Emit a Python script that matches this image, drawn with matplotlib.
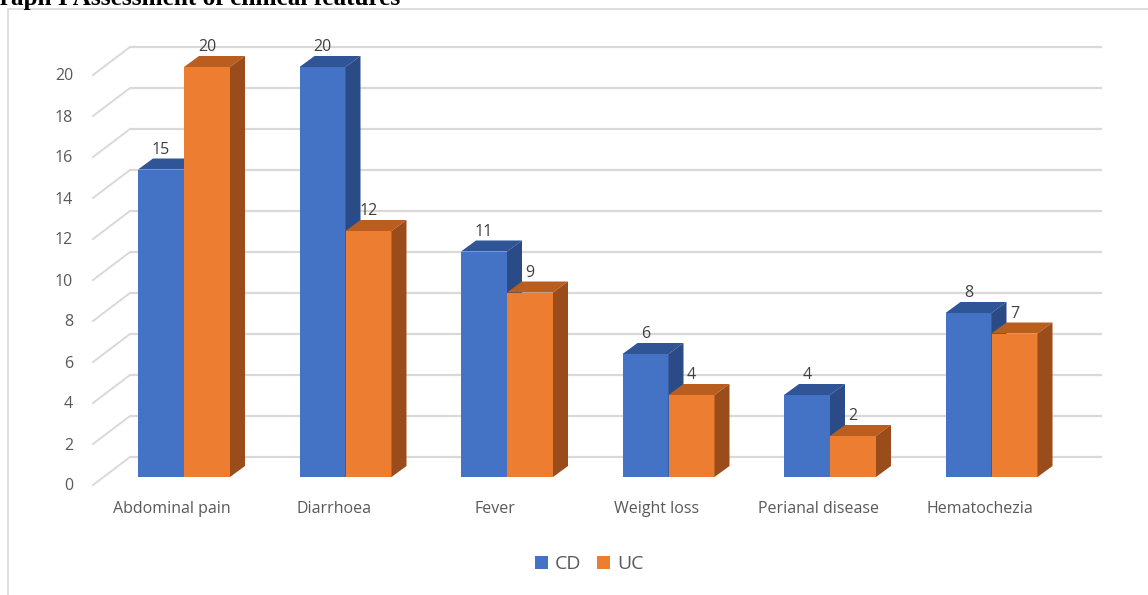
import matplotlib
matplotlib.use('Agg')
import matplotlib.pyplot as plt
from matplotlib.patches import Polygon, Patch, Rectangle

categories = ['Abdominal pain', 'Diarrhoea', 'Fever', 'Weight loss', 'Perianal disease', 'Hematochezia']
cd = [15, 20, 11, 6, 4, 8]
uc = [20, 12, 9, 4, 2, 7]
yticks = [0, 2, 4, 6, 8, 10, 12, 14, 16, 18, 20]
title = 'Graph I Assessment of clinical features'

W, H = 1148, 595
# pixel layout of the bar plane (y measured from bottom)
X0, XSTEP = 184, 161.5
Y0, YSTEP = 118, 20.5

def dxu(px):
    return px / XSTEP

def dyu(px):
    return px / YSTEP

blue, blue_top, blue_side = '#4472C4', '#2F5597', '#2A4B85'
orange, orange_top, orange_side = '#ED7D31', '#BA5E20', '#9A4C1A'
grid_c = '#D9D9D9'
txt_c = '#595959'

plt.rcParams['font.family'] = ['Open Sans', 'DejaVu Sans']

fig = plt.figure(figsize=(W / 100, H / 100), dpi=100)
ax = fig.add_axes([0, 0, 1, 1])
ax.set_xlim(-X0 / XSTEP, (W - X0) / XSTEP)
ax.set_ylim(-Y0 / YSTEP, (H - Y0) / YSTEP)
ax.axis('off')

# walls: back wall offset and front plane offset from the bar plane
back_dx, back_dy = dxu(26.5), dyu(20)
front_dx, front_dy = dxu(-10.5), dyu(-8)
wall_left = dxu(130 - X0)
wall_right = dxu(1102 - X0)

for v in yticks:
    ax.plot([wall_left, wall_right], [v + back_dy, v + back_dy], color=grid_c, lw=1.6,
            zorder=1, solid_capstyle='butt')
    ax.plot([wall_left + front_dx - back_dx, wall_left], [v + front_dy, v + back_dy],
            color=grid_c, lw=1.4, zorder=1)
    ax.text(dxu(73 - X0), v + front_dy - dyu(1.5), str(v), ha='right', va='center',
            fontsize=11.5, color=txt_c)

# bars
w = dxu(46)
ddx, ddy = dxu(15), dyu(11)

def bar3d(xc, v, front, top, side):
    x0, x1 = xc - w / 2, xc + w / 2
    ax.bar(xc, v, width=w, color=front, zorder=3)
    ax.add_patch(Polygon([(x0, v), (x1, v), (x1 + ddx, v + ddy), (x0 + ddx, v + ddy)],
                         closed=True, facecolor=top, edgecolor='none', zorder=3))
    ax.add_patch(Polygon([(x1, 0), (x1, v), (x1 + ddx, v + ddy), (x1 + ddx, ddy)],
                         closed=True, facecolor=side, edgecolor='none', zorder=3))
    ax.annotate(str(v), (xc, v + ddy), xytext=(0, 3.5), textcoords='offset points',
                ha='center', va='baseline', fontsize=11.5, color='#404040', zorder=5)

for i, cat in enumerate(categories):
    bar3d(i - w / 2, cd[i], blue, blue_top, blue_side)
    bar3d(i + w / 2, uc[i], orange, orange_top, orange_side)
    ax.text(i + dxu(-12), dyu(86 - Y0), cat, ha='center', va='center',
            fontsize=11.5, color=txt_c)

# chart border (only left and top edges visible)
fig.patches.append(Rectangle((8 / W, -0.2), 1.5, 1.2 - 9 / H + 0.0, transform=fig.transFigure,
                             facecolor='none', edgecolor=grid_c, lw=1.2, zorder=0))

# title, cut off at the top of the image
fig.text(-19.5 / W, 1 - 5 / H, title, ha='left', va='baseline', fontsize=18.2,
         fontweight='bold', family='Liberation Serif', color='black')

handles = [Patch(facecolor=blue, label='CD'), Patch(facecolor=orange, label='UC')]
fig.legend(handles=handles, loc='center', bbox_to_anchor=(589 / W, 1 - 564 / H), ncol=2,
           frameon=False, fontsize=14, handlelength=0.67, handleheight=0.67,
           handletextpad=0.36, columnspacing=0.8, labelcolor=txt_c, borderpad=0)

fig.savefig('out.png', dpi=100)
